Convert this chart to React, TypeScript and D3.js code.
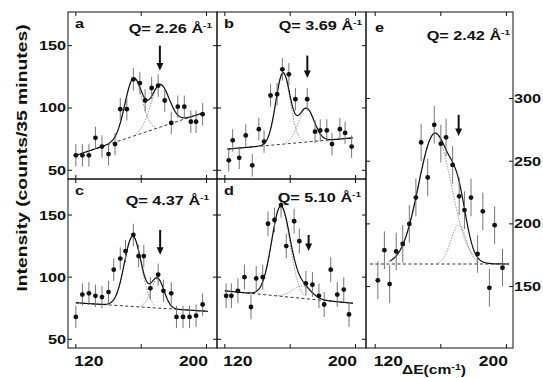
import React from 'react';
import * as d3 from 'd3';

// measured points, panel by panel (energy transfer in cm-1, counts / 35 min)
const energiesA = [110, 115, 120, 125, 130, 135, 140, 144, 149, 154, 159, 163, 168, 173, 178, 183, 188, 193, 198, 202, 207];
const countsA = [62, 62, 62, 76, 69, 63, 71, 99, 99, 123, 120, 106, 116, 118, 106, 88, 101, 101, 89, 89, 95];

const energiesB = [113, 116, 121, 126, 131, 136, 140, 145, 150, 154, 159, 164, 173, 179, 183, 188, 192, 198, 202, 207];
const countsB = [58, 74, 60, 78, 54, 83, 73, 110, 111, 131, 127, 107, 107, 81, 82, 82, 71, 83, 80, 69];

const energiesC = [110, 115, 120, 125, 130, 135, 139, 144, 148, 154, 158, 162, 167, 173, 177, 183, 187, 192, 197, 202, 207];
const countsC = [68, 86, 87, 85, 84, 88, 106, 115, 121, 134, 117, 117, 91, 102, 89, 87, 68, 68, 68, 69, 78];

const energiesD = [111, 115, 120, 125, 130, 134, 139, 143, 148, 153, 157, 163, 167, 172, 177, 182, 186, 191, 196, 201, 205];
const countsD = [85, 85, 89, 100, 76, 99, 100, 143, 146, 158, 125, 145, 129, 95, 94, 85, 78, 106, 86, 90, 70];

const energiesE = [112, 117, 121, 126, 131, 136, 141, 145, 150, 155, 160, 164, 169, 174, 178, 183, 188, 192, 197, 201, 207];
const countsE = [155, 179, 152, 178, 184, 200, 221, 265, 237, 279, 264, 269, 247, 222, 211, 221, 176, 210, 149, 199, 165];

const letters = ['a', 'b', 'c', 'd', 'e'];
const qValues = ['2.26', '3.69', '4.37', '5.10', '2.42'];
const errorBars = [9, 9, 9, 10, 15];

// fit: linear background [x0, y0, x1, y1], gaussian peaks [centre, height, sigma]
const backgrounds = [
  [110, 62, 207, 96],
  [112, 67, 208, 76],
  [110, 79.4, 211, 72.5],
  [110, 89, 208, 79],
  [106, 168, 212, 168],
];
const peaks = [
  [[154, 46, 6.5], [174.3, 34, 7]],
  [[154.5, 57, 5.5], [172.3, 27, 6]],
  [[153.6, 56.5, 6.5], [172.5, 23.5, 5]],
  [[152.8, 72, 7], [169, 10, 7]],
  [[155.5, 104, 12.5], [173.6, 31, 6]],
];
const fitRanges = [[110, 207], [112, 208], [110, 211], [110, 208], [121, 212]];
// arrow: [energy, top count, tip count]
const arrows = [
  [174.3, 150, 130],
  [173.1, 142, 124],
  [174.5, 138, 118],
  [174.1, 134, 121],
  [173.6, 287, 270],
];

const xTicks = [110, 160, 210];
const xLabels = [120, 200];
const yTicksSmall = [50, 100, 150];
const yTicksE = [150, 200, 250, 300];

const W = 543;
const H = 378;
const FONT = '"Liberation Sans", Arial, Helvetica, sans-serif';

const frames = [
  { x: [68, 217], y: [12, 179], xd: [104, 218], yd: [43, 177] },
  { x: [217, 366], y: [12, 179], xd: [104, 218], yd: [43, 177] },
  { x: [68, 217], y: [179, 348], xd: [104, 218], yd: [43, 179] },
  { x: [217, 366], y: [179, 348], xd: [104, 218], yd: [43, 179] },
  { x: [366, 513], y: [12, 348], xd: [103, 215], yd: [101, 369] },
];
const allEnergies = [energiesA, energiesB, energiesC, energiesD, energiesE];
const allCounts = [countsA, countsB, countsC, countsD, countsE];

const Txt = ({ x, y, anchor = 'start', size = 13, sx = 1.25, rot = false, children }: any) => (
  <g transform={`translate(${x},${y})${rot ? ' rotate(-90)' : ''} scale(${sx},1)`}>
    <text textAnchor={anchor} fontSize={size} fontFamily={FONT} fontWeight="bold" fill="#111">
      {children}
    </text>
  </g>
);

const gauss = (x: number, p: number[]) => p[1] * Math.exp(-((x - p[0]) ** 2) / (2 * p[2] * p[2]));

const Panel = ({ i }: { i: number }) => {
  const f = frames[i];
  const x = d3.scaleLinear().domain(f.xd).range(f.x);
  const y = d3.scaleLinear().domain(f.yd).range([f.y[1], f.y[0]]);
  const [bx0, by0, bx1, by1] = backgrounds[i];
  const bg = (e: number) => by0 + ((by1 - by0) * (e - bx0)) / (bx1 - bx0);
  const line = d3.line<number[]>().x((d) => x(d[0])).y((d) => y(d[1])).curve(d3.curveLinear);
  const total = d3
    .range(fitRanges[i][0], fitRanges[i][1] + 0.01, 0.5)
    .map((e) => [e, bg(e) + peaks[i].reduce((s, p) => s + gauss(e, p), 0)]);
  const dotted = peaks[i].map((p) =>
    d3.range(p[0] - 2.6 * p[2], p[0] + 2.6 * p[2] + 0.01, 0.5).map((e) => [e, bg(e) + gauss(e, p)])
  );
  const yTicks = i === 4 ? yTicksE : yTicksSmall;
  const [ax, aTop, aTip] = arrows[i];
  const tipY = y(aTip);
  const isBottom = i >= 2;
  const q = qValues[i];
  const qPos = [
    [212, 33],
    [362, 30],
    [209, 205],
    [361, 202],
    [510, 40],
  ][i];
  return (
    <g>
      <rect x={f.x[0]} y={f.y[0]} width={f.x[1] - f.x[0]} height={f.y[1] - f.y[0]} fill="none" stroke="#111" strokeWidth={1} />
      {xTicks.map((t) => (
        <g key={t} stroke="#111" strokeWidth={1}>
          <line x1={x(t)} x2={x(t)} y1={f.y[0]} y2={f.y[0] + 4} />
          <line x1={x(t)} x2={x(t)} y1={f.y[1]} y2={f.y[1] - 4} />
        </g>
      ))}
      {yTicks.map((t) => (
        <g key={t} stroke="#111" strokeWidth={1}>
          <line x1={f.x[0]} x2={f.x[0] + 4} y1={y(t)} y2={y(t)} />
          <line x1={f.x[1]} x2={f.x[1] - 4} y1={y(t)} y2={y(t)} />
        </g>
      ))}
      {(i === 0 || i === 2) &&
        yTicks.map((t) => (
          <Txt key={t} x={f.x[0] - 2} y={y(t) + 4.5} anchor="end">
            {t}
          </Txt>
        ))}
      {i === 4 &&
        yTicks.map((t) => (
          <Txt key={t} x={f.x[1] + 1} y={y(t) + 4.5}>
            {t}
          </Txt>
        ))}
      {(isBottom || i === 4) &&
        xLabels.map((t) => (
          <Txt key={t} x={x(t)} y={366} anchor="middle" size={14}>
            {t}
          </Txt>
        ))}
      <path d={line([[bx0, by0], [bx1, by1]]) || ''} fill="none" stroke="#222" strokeWidth={0.9} strokeDasharray="3,2.5" />
      {dotted.map((d, k) => (
        <path key={k} d={line(d) || ''} fill="none" stroke="#777" strokeWidth={0.8} strokeDasharray="1.4,1.4" />
      ))}
      <path d={line(total) || ''} fill="none" stroke="#111" strokeWidth={1.2} />
      {allEnergies[i].map((e, k) => (
        <g key={k}>
          <line
            x1={x(e)}
            x2={x(e)}
            y1={y(allCounts[i][k] - errorBars[i])}
            y2={y(allCounts[i][k] + errorBars[i])}
            stroke="#666"
            strokeWidth={0.9}
          />
          <circle cx={x(e)} cy={y(allCounts[i][k])} r={2.4} fill="#111" />
        </g>
      ))}
      <line x1={x(ax)} x2={x(ax)} y1={y(aTop)} y2={tipY - 6} stroke="#111" strokeWidth={2} />
      <polygon points={`${x(ax) - 3.5},${tipY - 7.5} ${x(ax) + 3.5},${tipY - 7.5} ${x(ax)},${tipY}`} fill="#111" />
      <Txt x={f.x[0] + (i === 4 ? 9 : 7)} y={f.y[0] + (i === 4 ? 20 : 16)} size={13}>
        {letters[i]}
      </Txt>
      <Txt x={qPos[0]} y={qPos[1]} anchor="end" size={13}>
        {`Q= ${q}  Å`}
        <tspan dy={-5} fontSize={8}>
          -1
        </tspan>
      </Txt>
    </g>
  );
};

export default function App() {
  return (
    <svg width={W} height={H} style={{ position: 'absolute', left: 0, top: 0, background: '#fff' }}>
      <rect width={W} height={H} fill="#fff" />
      {frames.map((_, i) => (
        <Panel key={i} i={i} />
      ))}
      <Txt x={27} y={158} anchor="middle" size={14} sx={1.38} rot>
        Intensity (counts/35 minutes)
      </Txt>
      <Txt x={434} y={374} anchor="middle" size={12.5}>
        {'ΔE(cm'}
        <tspan dy={-4} fontSize={8.5}>
          -1
        </tspan>
        <tspan dy={4}>)</tspan>
      </Txt>
    </svg>
  );
}
